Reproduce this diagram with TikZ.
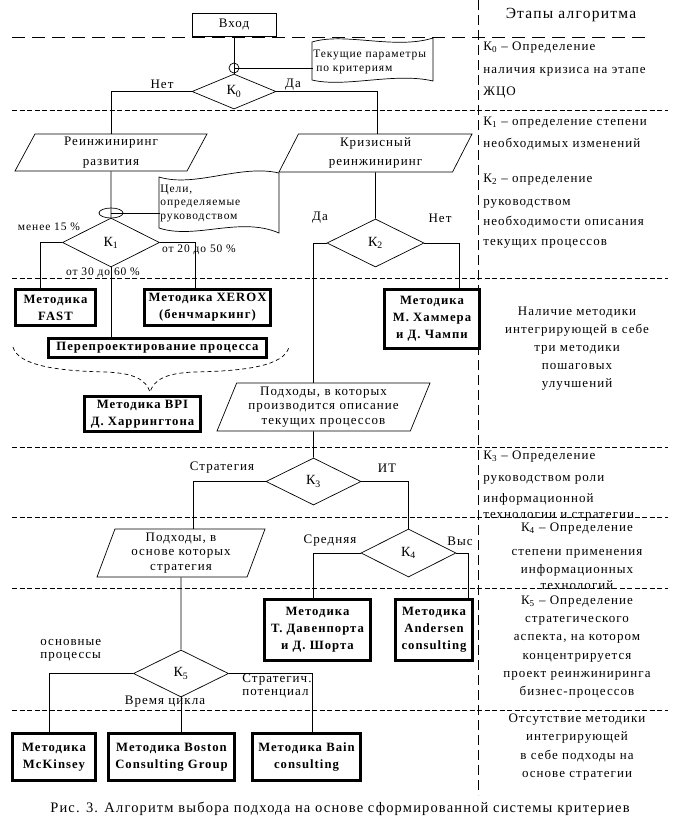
\documentclass[tikz,border=0pt]{standalone}
\usepackage{fontspec}
\setmainfont{Liberation Serif}[LetterSpace=8]
\usetikzlibrary{shapes.geometric,positioning}

\tikzset{
  sep/.style={dash pattern=on 5pt off 2.5pt},
  cond/.style={diamond, draw, aspect=2, inner sep=0pt, font=\fontsize{14}{15}\selectfont},
  metod/.style={draw, line width=2.6pt, align=center, inner sep=0pt,
    font=\fontsize{12.7}{17}\selectfont\bfseries},
  sdvig/.style={trapezium, draw, trapezium stretches body, align=center, inner sep=0pt,
    font=\fontsize{13}{14.5}\selectfont},
  lbl/.style={inner sep=0pt, font=\fontsize{13}{13}\selectfont},
  malo/.style={inner sep=0pt, font=\fontsize{11.5}{13.5}\selectfont},
  etap/.style={inner sep=0pt, anchor=mid west, font=\fontsize{13}{15}\selectfont},
  etapc/.style={inner sep=0pt, anchor=mid, font=\fontsize{13}{15}\selectfont},
}

\begin{document}
\begin{tikzpicture}[x=1pt,y=-1pt,line width=0.7pt]
\useasboundingbox (0,0) rectangle (673,830);

% разделители этапов
\draw[dash pattern=on 10pt off 5pt] (478,0) -- (478,795);
\draw[dash pattern=on 13pt off 7pt] (12,37) -- (648,37);
\foreach \yy in {110,278,447,517,588,710}{
  \draw[sep] (12,\yy) -- (668,\yy);
}

% блоки алгоритма
\node[draw, minimum width=84pt, minimum height=23pt, inner sep=0pt,
  font=\fontsize{13}{15}\selectfont] (vhod) at (234,24.5) {Вход};
\node[cond, minimum width=84pt, minimum height=35pt] (k0) at (234,91.5) {К\textsubscript{0}};
\node[circle, draw, minimum size=10pt, inner sep=0pt] (u0) at (234,68) {};
\node[malo, anchor=west, align=left] (tek) at (313,62) {Текущие параметры\\\hspace{3pt}по критериям};

\node[sdvig, trapezium left angle=57, trapezium right angle=123,
  minimum width=192pt, minimum height=37pt] (razv) at (111,152.5) {Реинжиниринг\\[5pt]развития};
\node[sdvig, trapezium left angle=58, trapezium right angle=122,
  minimum width=193pt, minimum height=38pt] (kriz) at (375.5,153) {Кризисный\\[5pt]реинжиниринг};

\node[ellipse, draw, minimum width=24pt, minimum height=10pt, inner sep=0pt] (u1) at (111,213) {};
\node[malo, anchor=west, align=left] (celi) at (160,203) {Цели,\\определяемые\\руководством};
\node[cond, minimum width=97pt, minimum height=49pt] (k1) at (111,242.5) {К\textsubscript{1}};
\node[cond, minimum width=97pt, minimum height=48pt] (k2) at (375.5,243) {К\textsubscript{2}};

\node[metod, minimum width=80.4pt, minimum height=36.4pt] (fast) at (55.5,307.5) {Методика\\FAST};
\node[metod, minimum width=126.4pt, minimum height=36.4pt] (xerox) at (207.5,307.5) {Методика XEROX\\(бенчмаркинг)};
\node[metod, minimum width=218.4pt, minimum height=19.4pt] (perepro) at (157.5,348) {Перепроектирование процесса};
\node[metod, minimum width=95.4pt, minimum height=59.4pt] (hammer) at (432,319) {Методика\\М. Хаммера\\и Д. Чампи};
\node[metod, minimum width=116.4pt, minimum height=35.4pt] (bpi) at (142.5,414) {Методика BPI\\Д. Харрингтона};

\node[sdvig, trapezium left angle=64, trapezium right angle=116,
  minimum width=213pt, minimum height=48pt] (podh1) at (323.5,407)
  {Подходы, в которых\\производится описание\\текущих процессов};
\node[cond, minimum width=95pt, minimum height=47pt] (k3) at (313.5,481.5) {К\textsubscript{3}};
\node[sdvig, trapezium left angle=66, trapezium right angle=114,
  minimum width=168pt, minimum height=48pt] (podh2) at (181,553)
  {Подходы, в\\основе которых\\стратегия};
\node[cond, minimum width=95pt, minimum height=48pt] (k4) at (408.5,553) {К\textsubscript{4}};
\node[metod, minimum width=106.4pt, minimum height=61.4pt] (daven) at (317.5,630) {Методика\\Т. Давенпорта\\и Д. Шорта};
\node[metod, minimum width=77.4pt, minimum height=61.4pt] (anders) at (434,630) {Методика\\Andersen\\consulting};
\node[cond, minimum width=95pt, minimum height=47pt] (k5) at (181,673.5) {К\textsubscript{5}};
\node[metod, minimum width=83.4pt, minimum height=47.4pt] (mck) at (54,757) {Методика\\McKinsey};
\node[metod, minimum width=126.4pt, minimum height=47.4pt] (boston) at (171.5,757) {Методика Boston\\Consulting Group};
\node[metod, minimum width=108.4pt, minimum height=47.4pt] (bain) at (306.5,757) {Методика Bain\\consulting};

% документы с волнистыми краями
\draw (312,42) .. controls (345,32) and (395,50) .. (433,38) -- (433,81)
  .. controls (395,72) and (345,88) .. (312,80) -- cycle;
\draw (159,177) .. controls (195,188) and (240,164) .. (279,173) -- (279,233)
  .. controls (240,216) and (195,240) .. (159,228) -- cycle;

% подписи ветвей
\node[lbl] (net0) at (162,84) {Нет};
\node[lbl] (da0) at (293,85) {Да};
\node[malo] (m15) at (49,227) {менее 15 \%};
\node[malo] (p2050) at (199,250) {от 20 до 50 \%};
\node[malo] (p3060) at (103,273) {от 30 до 60 \%};
\node[lbl] (da2) at (320,218) {Да};
\node[lbl] (net2) at (440,218) {Нет};
\node[lbl] (strat) at (222,468) {Стратегия};
\node[lbl] (it) at (387,468) {ИТ};
\node[lbl] (sred) at (330,541) {Средняя};
\node[lbl] (vys) at (460,541) {Выс};
\node[lbl, anchor=west, align=left] (osnov) at (40,650.5) {основные\\процессы};
\node[lbl, anchor=west, align=left] (strpot) at (242,685.5) {Стратегич.\\потенциал};
\node[lbl] (vremya) at (165,702) {Время цикла};

% соединения
\draw (vhod) -- (k0);
\draw (u0.center) -- (u0.center -| tek.west);
\draw (k0.west) -| (razv.north);
\draw (k0.east) -| ([xshift=1.5pt]kriz.north);
\draw (razv.south) -- (k1.north);
\draw (u1.center) -- (u1.center -| celi.west);
\draw (k1.west) -| ([xshift=-15pt]fast.north);
\draw (k1.east) -| ([xshift=-12.5pt]xerox.north);
\draw (k1.south) -- (k1.south |- perepro.north);
\draw (kriz.south) -- (k2.north);
\draw (k2.west) -| ([xshift=-10pt]podh1.north);
\draw (k2.east) -| ([xshift=27pt]hammer.north);
\draw ([xshift=-10pt]podh1.south) -- (k3.north);
\draw (k3.west) -| ([xshift=12pt]podh2.north);
\draw (k3.east) -| (k4.north);
\draw (podh2.south) -- (k5.north);
\draw (k4.west) -| ([xshift=-4.5pt]daven.north);
\draw (k4.east) -| ([xshift=34pt]anders.north);
\draw (k5.west) -| ([xshift=-5pt]mck.north);
\draw (k5.south) -- (k5.south |- boston.north);
\draw (k5.east) -| ([xshift=5.5pt]bain.north);

% фигурная скобка
\draw[dash pattern=on 4pt off 3pt] (13,347) .. controls (18,366) and (60,371) .. (105,372)
  .. controls (135,373) and (146,380) .. (150,392)
  .. controls (154,380) and (165,373) .. (195,372)
  .. controls (245,371) and (284,366) .. (289,347);

% этапы алгоритма
\node[inner sep=0pt, font=\fontsize{15.5}{17}\selectfont] (zag) at (571,15) {Этапы алгоритма};
\foreach \txt/\yy [count=\i] in {%
  {К\textsubscript{0} – Определение}/48, {наличия кризиса на этапе}/71, ЖЦО/93,%
  {К\textsubscript{1} – определение степени}/123, {необходимых изменений}/145,%
  {К\textsubscript{2} – определение}/180, руководством/203,%
  {необходимости описания}/223, {текущих процессов}/243,%
  {К\textsubscript{3} – Определение}/457, {руководством роли}/479,%
  информационной/500, {технологии и стратегии}/516%
  }{%
  \node[etap] (el\i) at (483,\yy) {\txt};
}
\foreach \txt/\yy [count=\i] in {%
  {Наличие методики}/313, {интегрирующей в себе}/331, {три методики}/349,%
  пошаговых/367, улучшений/385,%
  {К\textsubscript{4} – Определение}/529, {степени применения}/553,%
  информационных/571, технологий/587,%
  {К\textsubscript{5} – Определение}/602, стратегического/620,%
  {аспекта, на котором}/638, концентрируется/657,%
  {проект реинжиниринга}/675, бизнес-процессов/693,%
  {Отсутствие методики}/720, интегрирующей/738,%
  {в себе подходы на}/757, {основе стратегии}/775%
  }{%
  \node[etapc] (ec\i) at (577,\yy) {\txt};
}

% подпись рисунка
\node[inner sep=0pt, anchor=mid, font=\fontsize{14.5}{16}\selectfont] (podpis) at (340,810)
  {Рис. 3. Алгоритм выбора подхода на основе сформированной системы критериев};
\end{tikzpicture}
\end{document}
